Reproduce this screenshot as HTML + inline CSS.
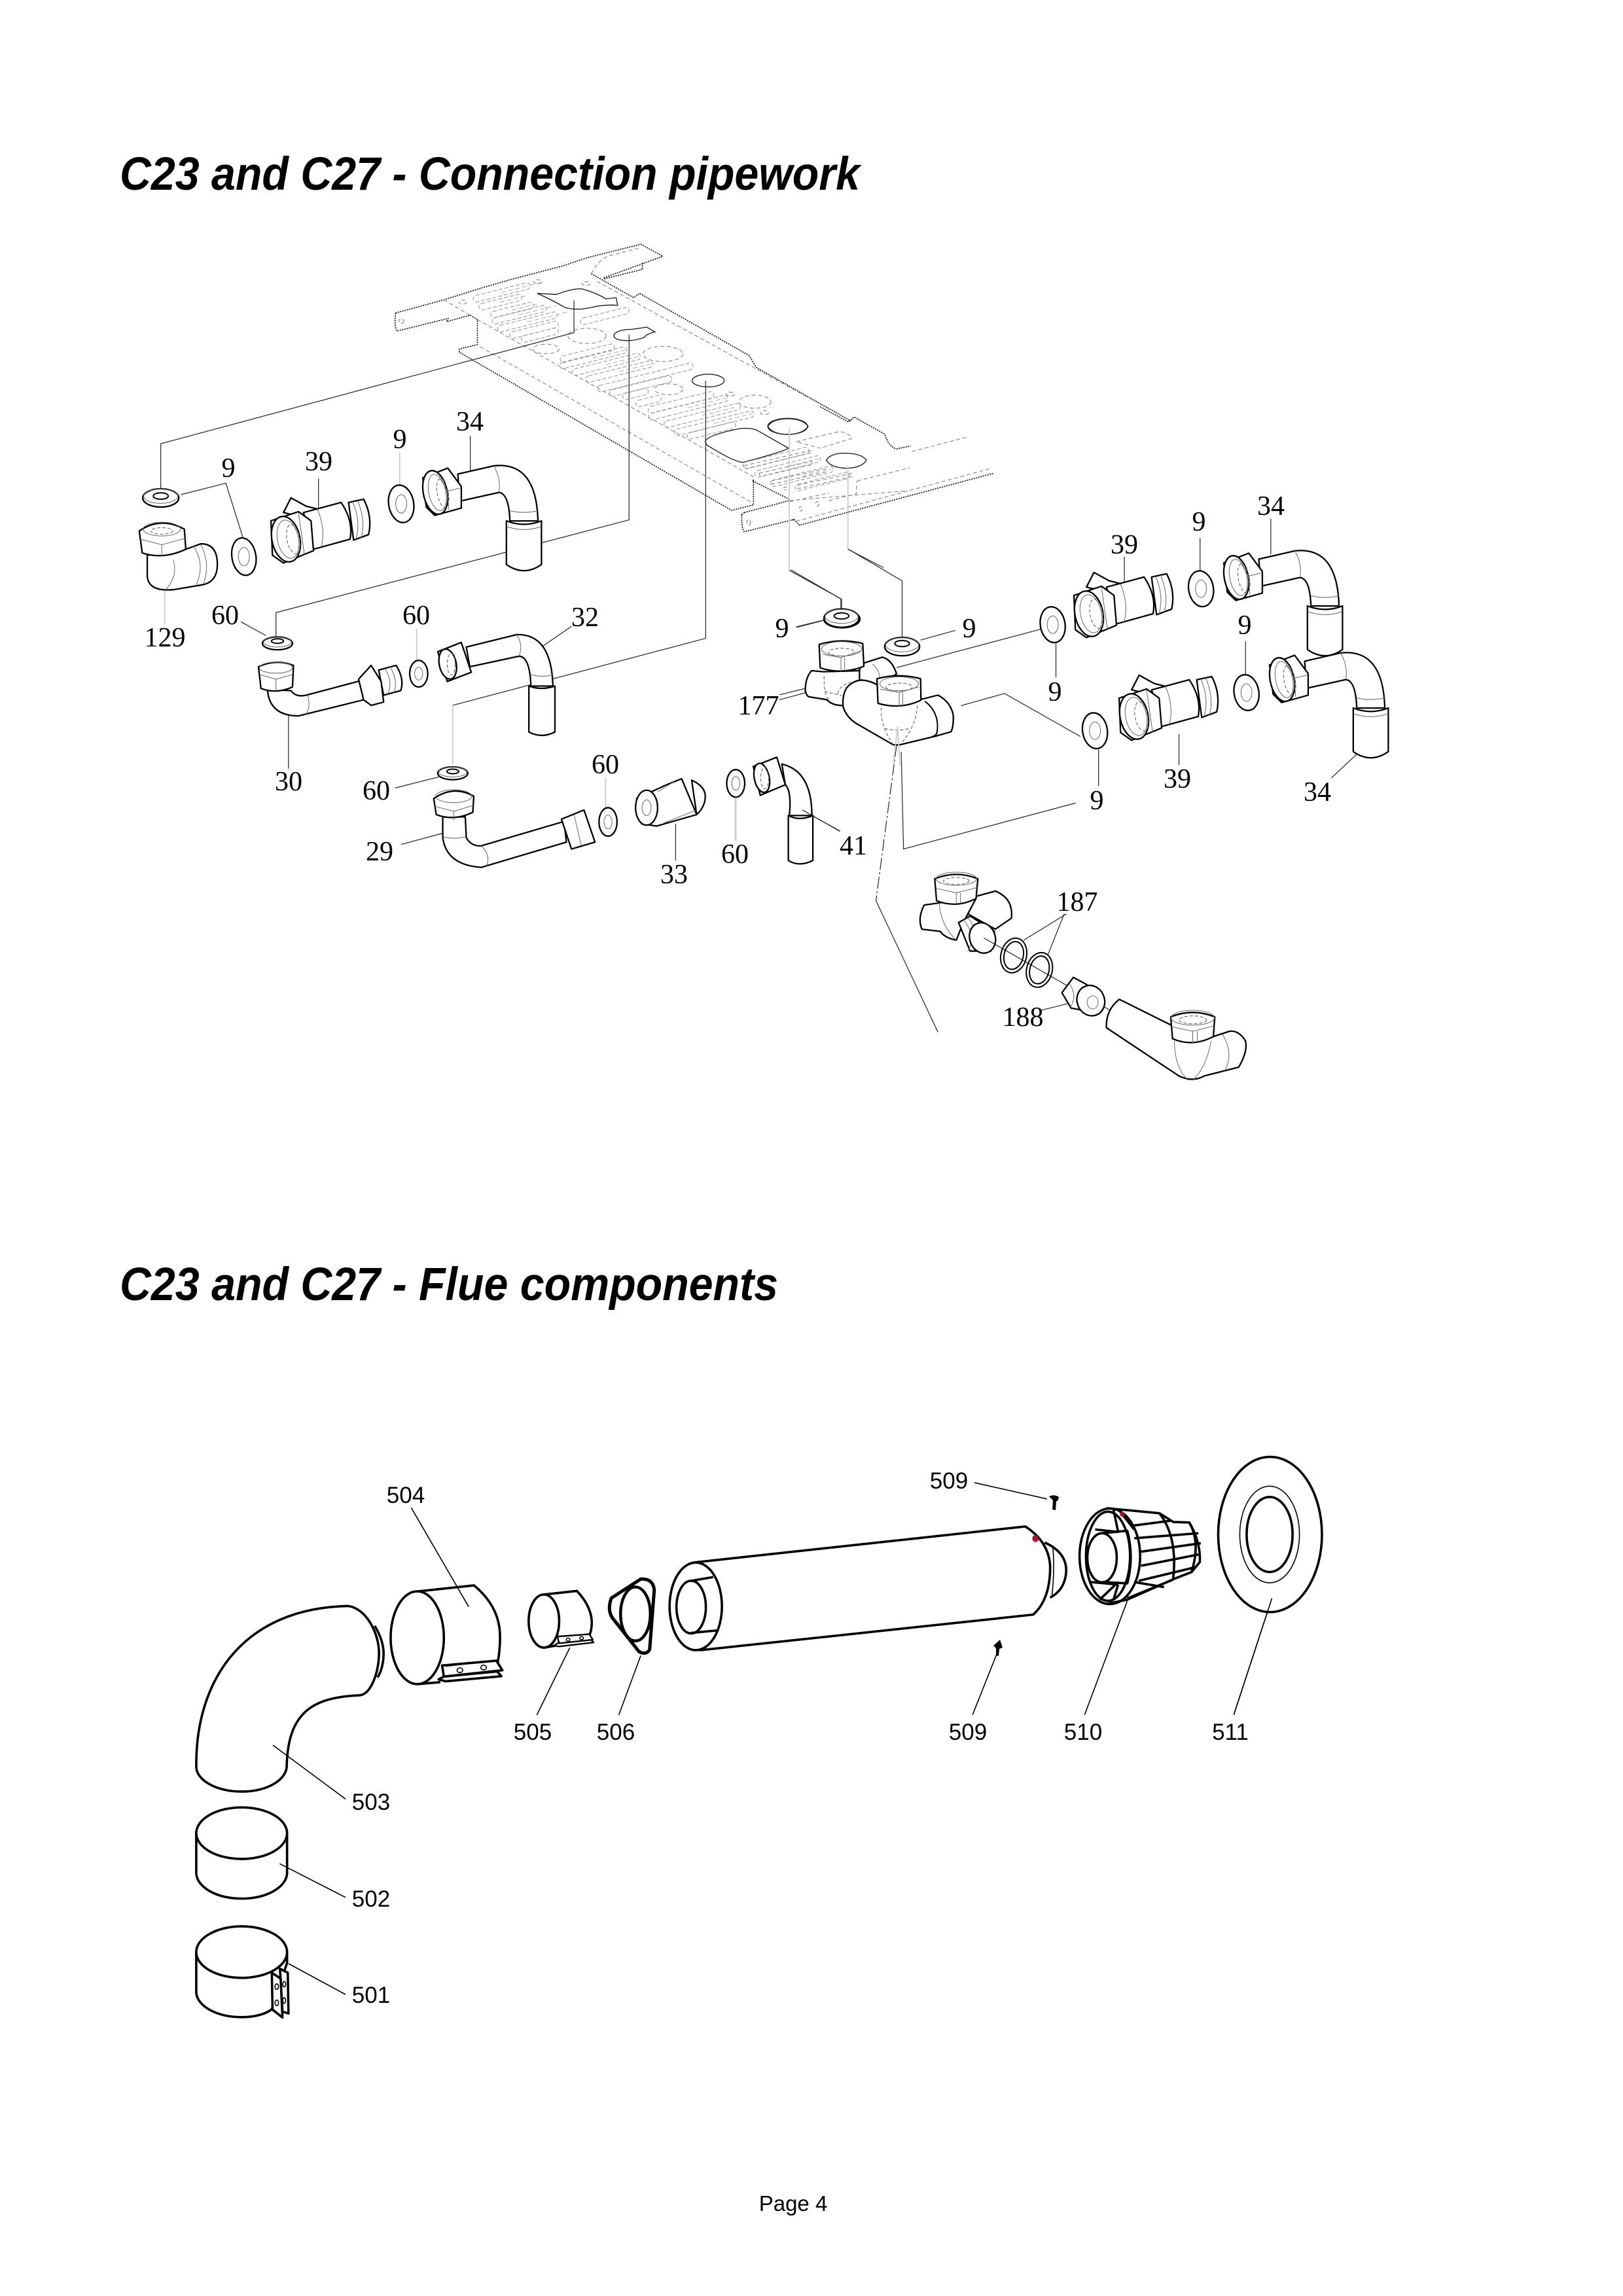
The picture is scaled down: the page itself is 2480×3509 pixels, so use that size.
<!DOCTYPE html>
<html><head><meta charset="utf-8"><title>C23 and C27</title>
<style>
html,body{margin:0;padding:0;background:#fff}
svg{display:block}
svg *{vector-effect:non-scaling-stroke}
.s text,text.s{font-family:"Liberation Serif",serif;font-size:42px;text-anchor:middle;fill:#000}
.a text{font-family:"Liberation Sans",sans-serif;font-size:35px;text-anchor:middle;fill:#000}
.t{font-family:"Liberation Sans",sans-serif;font-weight:bold;font-style:italic;font-size:71px;fill:#000}
.p{fill:#fff;stroke:#000;stroke-width:2.3;stroke-linejoin:round}
.n{fill:none;stroke:#000;stroke-width:2;stroke-linejoin:round}
.h{fill:none;stroke:#666;stroke-width:1}
.hd{fill:none;stroke:#555;stroke-width:1;stroke-dasharray:5 3}
.l{fill:none;stroke:#222;stroke-width:1.2}
.g{fill:none;stroke:#ccc;stroke-width:1.8}
.d{fill:none;stroke:#111;stroke-width:1.7;stroke-dasharray:2 1.6;stroke-linejoin:round}
.e{fill:none;stroke:#777;stroke-width:1;stroke-dasharray:6 4}
.dh{fill:none;stroke:#222;stroke-width:1.4}
.c rect{fill:none;stroke:#999;stroke-width:1.1;stroke-dasharray:6 3}
.c path{fill:none;stroke:#aaa;stroke-width:1;stroke-dasharray:7 4}
.f{fill:#fff;stroke:#000;stroke-width:3.6;stroke-linejoin:round}
.fn{fill:none;stroke:#000;stroke-width:3.6;stroke-linejoin:round}
.fl{fill:none;stroke:#000;stroke-width:1.6}
</style></head><body>
<svg xmlns="http://www.w3.org/2000/svg" width="2480" height="3509" viewBox="0 0 2480 3509">
<defs>
<g id="p34">
<path class="p" d="M718 548L790 530Q875 520 878 650L822 650Q820 590 800 588L722 607Z"/>
<path class="h" d="M790 530Q805 560 800 588M822 628Q850 635 878 628"/>
<path class="p" d="M815 650Q850 665 885 650L885 745Q850 772 815 745Z"/>
<path class="h" d="M815 662Q850 676 885 662"/>
<path class="p" d="M648 556L698 535L725 575L725 622L672 638L655 620Z"/>
<ellipse class="p" cx="673" cy="588" rx="24" ry="48" transform="rotate(-10 673 588)"/>
<ellipse class="h" cx="677" cy="588" rx="17" ry="40" transform="rotate(-10 677 588)"/>
<ellipse class="hd" cx="688" cy="590" rx="11" ry="32" transform="rotate(-10 688 590)"/>
<path class="h" d="M697 585L724 578M700 625L697 585L680 552"/>
</g>
<g id="p39">
<path class="p" d="M370 632L385 600L415 618L440 625L400 640Z"/>
<path class="p" d="M500 610L530 603Q548 640 540 680L510 692Z"/>
<path class="h" d="M508 608Q525 650 515 690M518 606Q535 650 525 688"/>
<path class="p" d="M410 632L485 610Q510 650 503 690L430 712Z"/>
<path class="h" d="M438 625Q455 670 445 708"/>
<path class="p" d="M345 650L400 630L425 650L430 715L370 742L348 725Z"/>
<ellipse class="p" cx="375" cy="690" rx="28" ry="50" transform="rotate(-10 375 690)"/>
<ellipse class="h" cx="379" cy="690" rx="21" ry="42" transform="rotate(-10 379 690)"/>
<ellipse class="hd" cx="390" cy="690" rx="13" ry="32" transform="rotate(-10 390 690)"/>
<path class="h" d="M400 632L412 725"/>
</g>
</defs>
<rect width="2480" height="3509" fill="#fff"/>
<text class="t" x="183" y="290" textLength="1131" lengthAdjust="spacingAndGlyphs">C23 and C27 - Connection pipework</text>
<text class="t" x="183" y="1987" textLength="1006" lengthAdjust="spacingAndGlyphs">C23 and C27 - Flue components</text>

<!-- plate (left part) -->
<g transform="translate(600,360) scale(.4464,.3333)">
<path class="d" d="M10 355L175 295L305 240L395 205L580 140L670 100L850 40L925 95L720 195"/>
<path class="d" d="M855 125L855 155L720 200M10 355Q5 420 15 438L190 380L185 395L265 365"/>
<path class="d" d="M680 175L825 285L845 265L1220 550L1245 605L1568 850"/>
<path class="d" d="M265 365L290 385L290 500L228 520L228 535L1160 1260L1235 1235L1235 1115"/>
<path class="e" d="M680 175Q700 120 735 95L850 55M175 295L290 385M300 510L1230 1225M700 210L1568 850M290 385L1240 1110"/>
<path class="dh" d="M495 265L560 270Q620 240 650 245Q700 265 730 290L765 285L770 320Q720 315 680 330Q630 345 590 330Q545 295 495 265Z"/>
<path class="dh" d="M757 455Q770 430 820 430L870 420L898 442Q870 450 860 468Q810 490 775 478Q755 470 757 455Z"/>
<ellipse class="e" cx="665" cy="460" rx="65" ry="35"/>
<ellipse class="e" cx="925" cy="543" rx="68" ry="35"/>
<ellipse class="dh" cx="1080" cy="665" rx="55" ry="29"/>
<ellipse class="e" cx="945" cy="705" rx="48" ry="25"/>
<ellipse class="e" cx="1240" cy="762" rx="55" ry="30"/>
<ellipse class="dh" cx="1352" cy="875" rx="68" ry="37"/>
<path class="dh" d="M1070 945Q1075 915 1190 885Q1230 880 1250 895L1355 975Q1340 990 1200 1040Q1170 1040 1075 960Z"/>
<ellipse class="e" cx="525" cy="520" rx="45" ry="22"/>
<ellipse class="e" cx="240" cy="305" rx="14" ry="9"/><ellipse class="e" cx="497" cy="212" rx="14" ry="9"/><ellipse class="e" cx="662" cy="220" rx="14" ry="9"/><ellipse class="e" cx="30" cy="392" rx="8" ry="12"/><ellipse class="e" cx="1156" cy="727" rx="14" ry="9"/><ellipse class="e" cx="1273" cy="812" rx="14" ry="9"/>
</g>
<g class="c">
<rect x="-44" y="-5" width="89" height="10" rx="5" transform="translate(766,447) rotate(-14)"/>
<rect x="-33" y="-5" width="67" height="10" rx="5" transform="translate(764,462) rotate(-14)"/>
<rect x="-33" y="-5" width="67" height="10" rx="5" transform="translate(782,474) rotate(-14)"/>
<rect x="-42" y="-5" width="85" height="10" rx="5" transform="translate(793,481) rotate(-14)"/>
<rect x="-47" y="-5" width="94" height="10" rx="5" transform="translate(806,492) rotate(-14)"/>
<rect x="-38" y="-5" width="76" height="10" rx="5" transform="translate(816,504) rotate(-14)"/>
<rect x="-29" y="-5" width="58" height="10" rx="5" transform="translate(825,512) rotate(-14)"/>
<rect x="-38" y="-5" width="76" height="10" rx="5" transform="translate(924,483) rotate(-14)"/>
<rect x="-42" y="-5" width="85" height="10" rx="5" transform="translate(897,540) rotate(-14)"/>
<rect x="-52" y="-5" width="105" height="10" rx="5" transform="translate(906,547) rotate(-14)"/>
<rect x="-53" y="-5" width="107" height="10" rx="5" transform="translate(926,557) rotate(-14)"/>
<rect x="-52" y="-5" width="105" height="10" rx="5" transform="translate(946,568) rotate(-14)"/>
<rect x="-75" y="-5" width="150" height="10" rx="5" transform="translate(986,577) rotate(-14)"/>
<rect x="-49" y="-5" width="98" height="10" rx="5" transform="translate(979,590) rotate(-14)"/>
<rect x="-20" y="-5" width="40" height="10" rx="5" transform="translate(971,602) rotate(-14)"/>
<rect x="-20" y="-5" width="40" height="10" rx="5" transform="translate(991,613) rotate(-14)"/>
<rect x="-51" y="-5" width="103" height="10" rx="5" transform="translate(1040,615) rotate(-14)"/>
<rect x="-62" y="-5" width="125" height="10" rx="5" transform="translate(1051,623) rotate(-14)"/>
<rect x="-60" y="-5" width="120" height="10" rx="5" transform="translate(1073,635) rotate(-14)"/>
<rect x="-62" y="-5" width="125" height="10" rx="5" transform="translate(1091,647) rotate(-14)"/>
<rect x="-38" y="-5" width="76" height="10" rx="5" transform="translate(1087,658) rotate(-14)"/>
<rect x="-51" y="-5" width="103" height="10" rx="5" transform="translate(1185,700) rotate(-14)"/>
<rect x="-51" y="-5" width="103" height="10" rx="5" transform="translate(1203,713) rotate(-14)"/>
<rect x="-49" y="-5" width="98" height="10" rx="5" transform="translate(1225,728) rotate(-14)"/>
<rect x="-42" y="-5" width="85" height="10" rx="5" transform="translate(1256,736) rotate(-14)"/>
<path d="M766 447L830 431M764 462L805 452M782 474L825 464M793 481L850 467M806 492L870 476M906 547L960 534M926 557L980 544M946 568L1000 555M1051 623L1110 608M1073 635L1125 622M1091 647L1150 632M1203 713L1250 701M1225 728L1270 717"/>
</g>
<!-- plate (right part) -->
<g transform="translate(1050,620) scale(.3333)">
<path class="d" d="M610 5L740 75L765 52L905 130Q925 190 960 198L1025 185"/>
<path class="d" d="M250 500Q250 570 262 578L490 522L515 548L1405 310M262 490L470 435M250 500L262 490M300 345L470 430M490 522L480 525"/>
<path class="e" d="M1030 210L1280 145M780 345L1020 285M650 435L775 405L778 345M500 530L1385 290M470 435L1010 390M470 440L650 400"/>
<path class="dh" d="M370 95Q390 60 462 60Q530 60 555 95Q530 130 462 132Q390 130 370 95Z"/>
<path class="dh" d="M638 250Q660 215 730 218Q800 220 822 250Q800 285 730 287Q660 285 638 250Z"/>
<path class="e" d="M500 165L700 118Q750 130 755 150L610 195Z"/>
<path class="e" d="M260 275L570 205L570 215L270 290ZM330 310L570 255L575 270L335 325ZM385 345L635 290L635 305L390 360ZM505 365L755 310L755 325L510 380ZM440 375L470 370L470 385L445 385"/>
<ellipse class="e" cx="282" cy="535" rx="8" ry="14"/><ellipse class="e" cx="520" cy="473" rx="8" ry="10"/><ellipse class="e" cx="597" cy="450" rx="8" ry="10"/>
</g>

<!-- Z1 -->
<g transform="translate(150,340) scale(.7653,.7015)">
<path class="l" d="M125 590L125 482L950 240L950 170"/>
<path class="l" d="M355 905L355 850L1060 648L1060 245"/>
<path class="l" d="M708 1052L1213 906L1213 345"/><path class="g" d="M708 1180L708 1052"/>
<path class="g" d="M1380 445L1380 758"/><path class="l" d="M1380 758L1483 820L1483 850"/>
<path class="g" d="M1497 530L1497 712"/><path class="l" d="M1497 712L1568 752"/>
<path class="l" d="M165 593L255 568L290 690M440 558L440 630M743 465L743 548M285 870L335 900M945 880L885 925M380 1075L380 1190M593 1232L680 1208M1153 1310L1153 1390M1408 1282L1480 1325M1395 882L1445 868M1360 1040L1455 1012"/>
<path class="g" d="M133 800L133 875M602 500L602 575M636 885L636 955M1013 1210L1013 1278M1272 1252L1272 1345"/>
<path class="l" d="M605 1355L690 1330"/>
<ellipse class="p" cx="125" cy="600" rx="36" ry="20"/><ellipse class="h" cx="125" cy="596" rx="34" ry="16"/><ellipse class="n" cx="125" cy="596" rx="15" ry="7"/>
<ellipse class="p" cx="358" cy="917" rx="30" ry="14"/><ellipse class="h" cx="358" cy="914" rx="28" ry="11"/><ellipse class="n" cx="358" cy="912" rx="12" ry="5"/>
<ellipse class="p" cx="708" cy="1200" rx="30" ry="14"/><ellipse class="h" cx="708" cy="1197" rx="28" ry="11"/><ellipse class="n" cx="708" cy="1196" rx="12" ry="5"/>
<ellipse class="p" cx="1485" cy="864" rx="36" ry="19"/><ellipse class="h" cx="1485" cy="860" rx="34" ry="15"/><ellipse class="n" cx="1485" cy="857" rx="15" ry="7"/>
<ellipse class="p" cx="291" cy="728" rx="24" ry="41" transform="rotate(-8 291 728)"/><ellipse class="h" cx="291" cy="728" rx="11" ry="20"/>
<ellipse class="p" cx="605" cy="613" rx="25" ry="41" transform="rotate(-8 605 613)"/><ellipse class="h" cx="605" cy="613" rx="11" ry="20"/>
<ellipse class="p" cx="640" cy="983" rx="18" ry="29"/><ellipse class="h" cx="640" cy="983" rx="8" ry="14"/>
<ellipse class="p" cx="1018" cy="1306" rx="18" ry="31"/><ellipse class="h" cx="1018" cy="1306" rx="8" ry="15"/>
<ellipse class="p" cx="1273" cy="1222" rx="18" ry="30"/><ellipse class="h" cx="1273" cy="1222" rx="8" ry="15"/>
<!-- 129 -->
<path class="p" d="M175 712L205 700Q238 700 238 745Q238 785 205 790L150 800Q100 805 98 770L98 725Z"/>
<path class="h" d="M190 705Q215 745 195 792M205 702Q225 745 210 788M150 735Q160 770 135 800"/>
<path class="p" d="M82 672Q125 640 172 668L175 712Q130 735 88 720Z"/>
<ellipse class="h" cx="127" cy="668" rx="37" ry="15"/><ellipse class="hd" cx="127" cy="672" rx="22" ry="7"/>
<path class="h" d="M84 690L127 702L174 688M127 702L127 728"/>
<!-- 30 -->
<path class="p" d="M338 1018Q342 1075 400 1075L530 1040L525 998L415 1030Q395 1035 385 1020Z"/>
<path class="h" d="M418 1030Q425 1055 415 1072"/>
<path class="p" d="M560 975L595 965Q612 995 604 1020L570 1030Z"/>
<path class="h" d="M572 972Q590 1000 578 1028M583 968Q600 1000 590 1025"/>
<path class="p" d="M520 995L545 965L565 1000L570 1045L545 1052L530 1040Z"/>
<path class="p" d="M320 968Q355 950 390 965L388 1012Q355 1028 325 1015Z"/>
<ellipse class="h" cx="355" cy="970" rx="33" ry="12"/><path class="h" d="M322 985L355 995L388 985M355 995L355 1020"/>
<!-- 32 -->
<path class="p" d="M735 925L835 898Q905 895 908 1010L864 1010Q862 945 840 945L742 968Z"/>
<path class="h" d="M835 898Q850 920 840 945M864 985Q885 992 908 985"/>
<path class="p" d="M860 1010Q885 1020 912 1010L912 1110Q885 1125 860 1110Z"/>
<path class="p" d="M678 935L725 915L745 980L697 1000Z"/><ellipse class="p" cx="698" cy="962" rx="17" ry="33" transform="rotate(-10 698 962)"/><ellipse class="hd" cx="705" cy="962" rx="8" ry="24"/>
<!-- 29 -->
<path class="p" d="M688 1295L688 1340Q695 1400 765 1405L935 1350L930 1305L765 1358Q745 1360 735 1340L733 1295Z"/>
<path class="h" d="M688 1338Q710 1345 735 1338M765 1358Q785 1380 775 1402"/>
<path class="p" d="M925 1300L970 1280L992 1350L945 1365Z"/><path class="h" d="M950 1290L965 1358"/>
<path class="p" d="M670 1255Q710 1225 750 1250L748 1285Q710 1305 675 1290Z"/><ellipse class="h" cx="710" cy="1250" rx="36" ry="14"/>
<path class="h" d="M672 1272L710 1283L749 1270M710 1283L710 1302"/>
<!-- 33 -->
<path class="p" d="M1185 1215Q1215 1230 1212 1255Q1210 1275 1195 1290Z"/>
<path class="p" d="M1075 1255L1095 1245L1135 1225L1165 1212L1195 1290L1115 1315L1085 1310Z"/>
<ellipse class="p" cx="1095" cy="1275" rx="22" ry="38"/><ellipse class="h" cx="1095" cy="1275" rx="9" ry="17"/>
<path class="h" d="M1118 1240L1150 1218M1130 1308L1195 1280"/>
<!-- 41 -->
<path class="p" d="M1365 1180Q1425 1195 1425 1292L1380 1292Q1385 1240 1372 1225Z"/>
<path class="p" d="M1378 1292Q1400 1305 1427 1292L1427 1390Q1400 1405 1378 1390Z"/>
<path class="p" d="M1308 1185L1355 1165L1372 1225L1322 1248Z"/><ellipse class="p" cx="1325" cy="1210" rx="15" ry="32" transform="rotate(-10 1325 1210)"/><ellipse class="hd" cx="1331" cy="1210" rx="8" ry="24"/>
</g>

<use href="#p34" transform="translate(646,754) scale(.7653,.7015) translate(-648,-590)"/>
<use href="#p39" transform="translate(414,824) scale(.7653,.7015) translate(-345,-690)"/>

<!-- Z2 -->
<g transform="translate(1100,640) scale(.7015,.6696)">
<path class="l" d="M155 345L265 412L265 440M280 298L397 370L397 505"/>
<path class="l" d="M166 475L225 460M437 505L513 483M385 568L700 480M732 510L732 590M525 655L620 627L785 725M825 755L825 838M881 315L881 375M1000 720L1000 790M1200 228L1200 310M1332 820L1405 748M1046 272L1046 350M1145 508L1145 585M180 893L262 942M755 1130L662 1190M750 1130L715 1222M700 1350L765 1333M130 630L235 603"/>
<path class="g" d="M35 865L35 965"/>
<path class="l" d="M395 760L400 982L775 877"/>
<path class="l" stroke-dasharray="18 4 3 4" d="M385 745L340 1100"/>
<path class="l" d="M340 1100L475 1400"/>
<ellipse class="p" cx="265" cy="455" rx="38" ry="21"/><ellipse class="h" cx="265" cy="451" rx="36" ry="16"/><ellipse class="n" cx="265" cy="450" rx="16" ry="7"/>
<ellipse class="p" cx="397" cy="520" rx="38" ry="21"/><ellipse class="h" cx="397" cy="516" rx="36" ry="16"/><ellipse class="n" cx="397" cy="513" rx="16" ry="7"/>
<ellipse class="p" cx="725" cy="470" rx="27" ry="41" transform="rotate(-8 725 470)"/><ellipse class="h" cx="725" cy="470" rx="12" ry="20"/>
<ellipse class="p" cx="1048" cy="388" rx="27" ry="41" transform="rotate(-8 1048 388)"/><ellipse class="h" cx="1048" cy="388" rx="12" ry="20"/>
<ellipse class="p" cx="817" cy="712" rx="27" ry="41" transform="rotate(-8 817 712)"/><ellipse class="h" cx="817" cy="712" rx="12" ry="20"/>
<ellipse class="p" cx="1147" cy="625" rx="27" ry="41" transform="rotate(-8 1147 625)"/><ellipse class="h" cx="1147" cy="625" rx="12" ry="20"/>
<!-- lower assembly -->
<path class="p" d="M558 1090L600 1078Q640 1095 635 1140L600 1165L540 1130Z"/>
<path class="p" d="M478 1105L445 1110Q430 1140 440 1165L480 1170Q490 1185 515 1190L530 1150L558 1095Z"/>
<path class="h" d="M478 1105Q480 1155 515 1190"/>
<path class="p" d="M520 1150L545 1135L598 1170L590 1215L545 1215Z"/>
<path class="h" d="M530 1143Q560 1180 540 1215M540 1138Q570 1180 552 1215"/>
<ellipse class="p" cx="572" cy="1185" rx="28" ry="35" transform="rotate(-15 572 1185)"/>
<path class="p" d="M468 1050Q515 1030 562 1050L558 1095Q515 1118 472 1100Z"/><ellipse class="h" cx="515" cy="1050" rx="44" ry="15"/><ellipse class="hd" cx="515" cy="1055" rx="28" ry="8"/>
<path class="h" d="M472 1072L515 1082L560 1070M515 1082L515 1108M524 1082L524 1107"/>
<path class="l" d="M575 1185L850 1350"/>
<ellipse class="n" cx="640" cy="1225" rx="28" ry="40" transform="rotate(12 640 1225)"/><ellipse class="n" cx="640" cy="1225" rx="21" ry="32" transform="rotate(12 640 1225)"/>
<ellipse class="n" cx="696" cy="1258" rx="28" ry="40" transform="rotate(12 696 1258)"/><ellipse class="n" cx="696" cy="1258" rx="21" ry="32" transform="rotate(12 696 1258)"/>
<!-- 188 -->
<path class="p" d="M745 1310L770 1275L800 1292L790 1350L765 1345Z"/><path class="h" d="M762 1290Q780 1320 762 1345"/>
<ellipse class="p" cx="808" cy="1328" rx="30" ry="35" transform="rotate(-15 808 1328)"/><ellipse class="h" cx="812" cy="1332" rx="12" ry="15"/>
<!-- lower body -->
<path class="p" d="M870 1325Q840 1350 842 1390L1000 1500Q1030 1515 1055 1500L1130 1480Q1150 1445 1145 1420Q1130 1395 1110 1398L1075 1410L985 1385Z"/>
<path class="h" d="M990 1420Q990 1480 1020 1510M1070 1420Q1060 1480 1030 1510M1095 1405Q1120 1450 1100 1488"/>
<path class="p" d="M982 1365Q1030 1345 1078 1365L1075 1410Q1030 1435 986 1415Z"/><ellipse class="h" cx="1030" cy="1367" rx="47" ry="17"/><ellipse class="hd" cx="1030" cy="1372" rx="30" ry="9"/>
<path class="h" d="M986 1388L1030 1398L1076 1386M1030 1398L1030 1425M1040 1398L1040 1423"/>
</g>

<!-- 177 group, detailed -->
<g transform="translate(1200,950) scale(.3333)">
<path class="p" d="M345 195L445 163Q490 175 510 240L420 290L330 290Z"/>
<path class="h" d="M400 195Q440 230 430 270"/>
<path class="p" d="M175 230L120 225Q90 260 92 320Q100 345 110 345L190 358Q215 385 265 385L340 270L340 225Z"/>
<path class="hd" d="M178 250Q175 330 200 360M240 330Q250 290 300 280M180 320L260 340"/>
<path class="p" d="M155 105Q250 75 355 100L360 205Q260 245 160 212Z"/>
<ellipse class="h" cx="258" cy="125" rx="92" ry="33"/><ellipse class="hd" cx="258" cy="140" rx="60" ry="18"/>
<path class="h" d="M172 150L255 165L345 135M255 165L255 228M272 165L272 225"/>
<path class="p" d="M630 355L700 337Q760 370 770 430Q772 480 760 505L690 525L525 565L495 565L330 470Q280 440 265 390Q260 340 280 305Q310 270 350 268Q390 270 430 295Z"/>
<path class="n" d="M640 365Q710 420 695 510Q690 525 670 528"/>
<path class="hd" d="M440 395Q435 480 495 565M605 385Q600 480 530 560M455 490Q515 505 570 490"/>
<path class="p" d="M420 262Q520 235 620 262L622 360Q530 405 425 375Z"/>
<ellipse class="h" cx="522" cy="285" rx="88" ry="32"/><ellipse class="hd" cx="522" cy="300" rx="60" ry="18"/>
<path class="h" d="M435 310L522 325L610 300M522 325L522 390M538 325L538 388"/>
<path class="g" d="M515 480L495 660M515 480L525 660"/>
</g>
<use href="#p39" transform="translate(1641,938) scale(.7653,.7015) translate(-345,-690)"/>
<use href="#p39" transform="translate(1710,1095) scale(.7653,.7015) translate(-345,-690)"/>
<use href="#p34" transform="translate(1870,884) scale(.7653,.7015) translate(-648,-590)"/>
<use href="#p34" transform="translate(1940,1040) scale(.7653,.7015) translate(-648,-590)"/>

<g class="s">
<text x="349" y="729">9</text><text x="487" y="719">39</text><text x="611" y="685">9</text><text x="718" y="658">34</text>
<text x="252" y="988">129</text><text x="344" y="954">60</text><text x="636" y="954">60</text><text x="894" y="957">32</text>
<text x="1195" y="974">9</text><text x="1159" y="1092">177</text><text x="441" y="1208">30</text><text x="575" y="1222">60</text>
<text x="925" y="1182">60</text><text x="580" y="1315">29</text><text x="1030" y="1350">33</text><text x="1123" y="1319">60</text><text x="1304" y="1306">41</text>
<text x="1942" y="787">34</text><text x="1832" y="811">9</text><text x="1718" y="846">39</text><text x="1902" y="969">9</text>
<text x="1481" y="974">9</text><text x="1612" y="1071">9</text><text x="1799" y="1204">39</text><text x="1676" y="1237">9</text>
<text x="2013" y="1224">34</text><text x="1646" y="1392">187</text><text x="1563" y="1568">188</text>
</g>

<!-- Z3 -->
<g transform="translate(250,2200) scale(.5421,.6059)">
<path class="f" d="M595 470Q622 510 620 545Q618 580 603 600"/>
<path class="f" d="M92 825C90 600 230 425 520 420C570 425 610 490 607 545C605 590 585 640 555 645C430 650 350 680 347 825C345 860 290 888 220 888C150 888 92 860 92 825Z"/>
<path class="fl" d="M308 771L513 907M698 172L860 422M1052 695L1145 525M1283 695L1345 545"/>
<path class="fn" d="M718 383L875 368Q945 420 948 490Q950 530 938 580M718 617L780 612"/>
<ellipse class="f" cx="715" cy="500" rx="75" ry="117"/>
<path class="f" d="M775 605L795 610L952 597L940 585L790 598Z"/>
<path class="f" d="M785 570L790 598L955 582L938 558Z"/>
<ellipse class="fl" cx="835" cy="582" rx="8" ry="6"/><ellipse class="fl" cx="902" cy="575" rx="8" ry="6"/>
<path class="fl" d="M795 572L928 558"/>
<path class="fn" d="M1072 391L1165 382Q1205 420 1207 460Q1207 480 1200 495M1072 525L1105 520"/>
<ellipse class="f" cx="1072" cy="458" rx="43" ry="67"/>
<path class="fn" style="stroke-width:2.4" d="M1100 520L1115 522L1212 512L1205 505L1112 513Z"/>
<path class="f" style="stroke-width:2.4" d="M1110 497L1115 514L1210 505L1200 491Z"/>
<ellipse class="fl" cx="1140" cy="505" rx="5" ry="4"/><ellipse class="fl" cx="1178" cy="501" rx="5" ry="4"/>
<path class="fn" style="stroke-width:5" d="M1262 400L1345 352Q1380 350 1383 380L1370 530Q1360 545 1340 535L1265 450Q1250 430 1262 400Z"/>
<ellipse class="fn" style="stroke-width:4.5" cx="1330" cy="440" rx="42" ry="68"/>
<path class="f" d="M92 993L92 1095C95 1130 150 1158 220 1158C290 1158 345 1130 348 1095L348 993Z"/>
<ellipse class="f" cx="220" cy="993" rx="128" ry="65"/>
<path class="fl" d="M327 1070L513 1155"/>
<path class="f" d="M92 1293L92 1395C95 1430 150 1457 220 1457C260 1457 290 1448 305 1437L348 1320L348 1293Z"/>
<ellipse class="f" cx="220" cy="1293" rx="128" ry="65"/>
<path class="fl" d="M352 1322L513 1400"/>
<path class="f" d="M328 1335L350 1345L352 1448L335 1443Z"/>
<path class="f" d="M305 1345L330 1360L335 1458L307 1438Z"/>
<ellipse class="fl" cx="319" cy="1380" rx="5" ry="7"/><ellipse class="fl" cx="319" cy="1421" rx="5" ry="7"/><ellipse class="fl" cx="340" cy="1374" rx="4" ry="7"/><ellipse class="fl" cx="340" cy="1415" rx="4" ry="7"/>
</g>

<!-- Z4 -->
<g transform="translate(1000,2150) scale(.7015,.3827)">
<path class="fn" d="M850 542Q897 580 897 655Q895 730 862 762"/>
<path class="fl" d="M868 560Q872 650 866 755"/>
<path class="f" d="M85 622L808 478Q860 540 862 640Q862 770 825 830L100 972Z"/>
<ellipse class="f" cx="90" cy="797" rx="57" ry="175"/>
<ellipse class="f" cx="80" cy="800" rx="32" ry="105"/>
<path class="fn" d="M80 695L128 680M80 903L138 893"/>
<ellipse cx="830" cy="526" rx="7" ry="14" fill="#b01030"/>
<path class="fl" d="M697 303L855 368M693 1230L745 990M937 1230L1030 775M1262 1230L1345 765"/>
<!-- 510 -->
<path class="fn" d="M985 405L1100 425L1130 460L1165 462Q1190 540 1188 620L1170 660L1135 685L1030 770L985 787"/>
<path class="fn" d="M1040 475L1125 455M1045 525L1185 505M1055 580L1190 545M1060 635L1185 590M1055 695L1180 640M1030 765L1130 690M1100 425Q1140 520 1130 685M1165 462Q1190 540 1170 660M1010 408L1045 490M1000 410L1010 500M960 490L1010 500M950 700L1010 710M970 770L1010 700M1000 770L1010 710M1045 700L1110 720"/>
<ellipse class="fn" cx="992" cy="597" rx="66" ry="191"/>
<ellipse class="fn" cx="988" cy="597" rx="48" ry="178"/>
<ellipse class="f" cx="975" cy="603" rx="32" ry="98"/>
<path class="fn" d="M975 505L1030 495Q1045 600 1030 705L975 700"/>
<ellipse cx="1019" cy="429" rx="5" ry="10" fill="#b01030"/>
<!-- 511 -->
<ellipse class="f" cx="1341" cy="510" rx="113" ry="310"/>
<ellipse class="fl" cx="1340" cy="510" rx="65" ry="193"/>
<ellipse class="fn" cx="1340" cy="510" rx="50" ry="150"/>
<path class="fl" d="M1345 765L1262 1230"/>
</g>
<!-- screws -->
<path d="M1603 2287Q1611 2283 1618 2288L1616 2294L1614 2294L1613 2308L1608 2307L1609 2293Z" fill="#000"/>
<path d="M1528 2506L1532 2518L1527 2520L1526 2531L1522 2530L1522 2519L1518 2515Z" fill="#000"/>

<g class="a">
<text x="620" y="2297">504</text><text x="814" y="2659">505</text><text x="941" y="2659">506</text>
<text x="567" y="2766">503</text><text x="567" y="2914">502</text><text x="567" y="3061">501</text>
<text x="1450" y="2275">509</text><text x="1479" y="2659">509</text><text x="1655" y="2659">510</text><text x="1880" y="2659">511</text>
</g>
<text x="1212" y="3379" text-anchor="middle" style="font-family:'Liberation Sans',sans-serif;font-size:33px">Page 4</text>
</svg>
</body></html>
